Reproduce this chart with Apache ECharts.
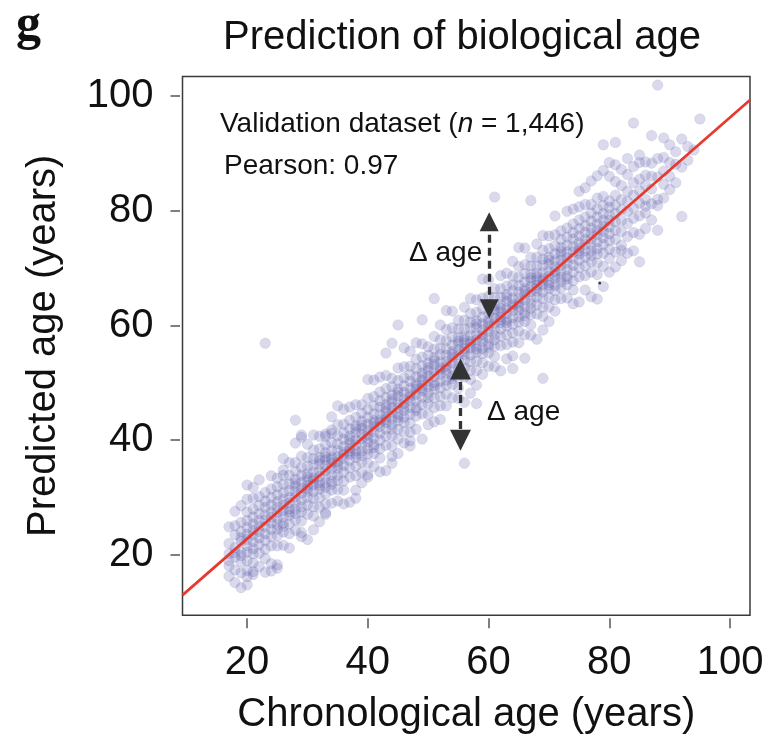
<!DOCTYPE html>
<html><head><meta charset="utf-8">
<script src="https://cdn.jsdelivr.net/npm/echarts@6/dist/echarts.min.js"></script>
<style>html,body{margin:0;padding:0;background:#fff}#c{width:767px;height:742px}</style>
</head><body><div id="c"></div>
<script>
// tick labels
const xTicks = [20, 40, 60, 80, 100];
const yTicks = [20, 40, 60, 80, 100];

// each row: chronological age, then predicted ages of the samples with that age
const ages17to29 = [
  [17, 16.3, 18.1, 20.2, 24.9, 22.0, 19.0],
  [18, 15.2, 17.4, 19.6, 21.3, 23.5, 27.6, 25.1, 20.4],
  [19, 14.3, 18.8, 20.5, 22.4, 24.1, 25.7, 19.9, 28.6, 16.9, 23.0],
  [20, 14.8, 17.3, 19.0, 20.5, 21.6, 22.7, 23.6, 24.8, 26.0, 27.5, 29.7, 32.2, 16.2],
  [21, 16.6, 18.6, 20.2, 21.1, 22.3, 23.5, 24.3, 25.4, 26.6, 28.0, 29.9, 31.8, 17.1],
  [22, 18.0, 20.3, 21.8, 23.0, 24.1, 25.0, 26.0, 27.2, 28.6, 30.2, 33.1],
  [23, 17.0, 19.4, 21.0, 22.5, 23.7, 24.9, 26.0, 27.0, 28.3, 29.4, 30.9, 56.9],
  [24, 17.2, 21.6, 23.2, 24.5, 25.6, 26.6, 27.5, 28.7, 30.0, 31.5, 33.8, 18.5],
  [25, 21.6, 23.4, 25.3, 26.4, 27.4, 28.3, 29.3, 30.5, 31.9, 33.4, 24.5, 18.3, 17.7],
  [26, 21.7, 24.0, 25.5, 26.7, 27.8, 28.7, 29.7, 30.9, 32.3, 33.9, 36.8, 25.0, 34.8],
  [27, 21.2, 23.7, 25.4, 26.9, 28.0, 29.1, 30.0, 31.2, 32.4, 33.9, 36.1, 27.5],
  [28, 24.3, 26.1, 28.0, 29.1, 30.1, 31.0, 32.0, 33.2, 34.6, 36.1, 27.2, 32.5, 39.5, 43.5],
  [29, 23.9, 25.9, 27.5, 28.4, 29.6, 30.8, 31.6, 32.7, 33.9, 35.3, 37.2, 40.5, 40.9, 23.2]
];
const ages30s = [
  [30, 22.7, 27.1, 28.7, 30.0, 31.1, 32.1, 33.0, 34.2, 35.5, 37.0, 39.3, 31.6, 33.6],
  [31, 24.4, 26.8, 28.4, 29.9, 31.1, 32.3, 33.4, 34.4, 35.7, 36.8, 38.3, 40.9, 33.0],
  [32, 25.8, 28.3, 30.0, 31.5, 32.6, 33.7, 34.6, 35.8, 37.0, 38.5, 40.7, 32.1, 36.5],
  [33, 28.9, 30.7, 32.6, 33.7, 34.7, 35.6, 36.6, 37.8, 39.2, 40.7, 31.8, 37.1, 27.1, 41.1, 27.4],
  [34, 29.0, 31.3, 32.8, 34.0, 35.1, 36.0, 37.0, 38.2, 39.6, 41.2, 44.1, 32.3, 36.6, 41.8],
  [35, 29.4, 31.4, 33.0, 33.9, 35.1, 36.3, 37.1, 38.2, 39.4, 40.8, 42.7, 46.0, 35.7],
  [36, 28.9, 31.3, 32.9, 34.4, 35.6, 36.8, 37.9, 38.9, 40.2, 41.3, 42.8, 45.4, 37.5],
  [37, 29.2, 33.6, 35.2, 36.5, 37.6, 38.6, 39.5, 40.7, 42.0, 43.5, 45.8, 38.1, 40.1],
  [38, 31.3, 33.8, 35.5, 37.0, 38.1, 39.2, 40.1, 41.3, 42.5, 44.0, 46.2, 37.6, 42.0, 29.9],
  [39, 34.4, 36.2, 38.1, 39.2, 40.2, 41.1, 42.1, 43.3, 44.7, 46.2, 37.3, 42.6, 32.6]
];
const ages40s = [
  [40, 34.0, 36.0, 37.6, 38.5, 39.7, 40.9, 41.7, 42.8, 44.0, 45.4, 47.3, 50.6, 40.3, 33.6],
  [41, 35.4, 37.7, 39.2, 40.4, 41.5, 42.4, 43.4, 44.6, 46.0, 47.6, 50.5, 38.7, 43.0],
  [42, 34.5, 36.9, 38.5, 40.0, 41.2, 42.4, 43.5, 44.5, 45.8, 46.9, 48.4, 51.0, 43.1],
  [43, 34.7, 39.1, 40.7, 42.0, 43.1, 44.1, 45.0, 46.2, 47.5, 49.0, 51.3, 43.6, 45.6, 55.2],
  [44, 39.0, 40.8, 42.7, 43.8, 44.8, 45.7, 46.7, 47.9, 49.3, 50.8, 41.9, 47.2, 37.2, 56.9, 36.0],
  [45, 37.7, 40.2, 41.9, 43.4, 44.5, 45.6, 46.5, 47.7, 48.9, 50.4, 52.6, 44.0, 48.4, 60.1],
  [46, 39.5, 41.5, 43.1, 44.0, 45.2, 46.4, 47.2, 48.3, 49.5, 50.9, 52.8, 56.1, 45.8],
  [47, 39.0, 41.4, 43.0, 44.5, 45.7, 46.9, 48.0, 49.0, 50.3, 51.4, 52.9, 55.5, 47.6, 39.9],
  [48, 41.9, 44.2, 45.7, 46.9, 48.0, 48.9, 49.9, 51.1, 52.5, 54.1, 57.0, 45.2, 49.5],
  [49, 40.2, 44.6, 46.2, 47.5, 48.6, 49.6, 50.5, 51.7, 53.0, 54.5, 56.8, 49.1, 51.1, 61.0]
];
const ages50s = [
  [50, 44.5, 46.3, 48.2, 49.3, 50.3, 51.2, 52.2, 53.4, 54.8, 56.3, 47.4, 52.7, 42.7],
  [51, 43.2, 45.7, 47.4, 48.9, 50.0, 51.1, 52.0, 53.2, 54.4, 55.9, 58.1, 49.5, 53.9, 64.7],
  [52, 43.6, 46.0, 47.6, 49.1, 50.3, 51.5, 52.6, 53.6, 54.9, 56.0, 57.5, 60.1, 52.2],
  [53, 46.0, 48.0, 49.6, 50.5, 51.7, 52.9, 53.7, 54.8, 56.0, 57.4, 59.3, 62.6, 52.3],
  [54, 47.4, 49.7, 51.2, 52.4, 53.5, 54.4, 55.4, 56.6, 58.0, 59.6, 62.5, 50.7, 55.0],
  [55, 49.1, 50.9, 52.8, 53.9, 54.9, 55.8, 56.8, 58.0, 59.4, 60.9, 52.0, 57.3, 47.3],
  [56, 46.6, 51.0, 52.6, 53.9, 55.0, 56.0, 56.9, 58.1, 59.4, 60.9, 63.2, 55.5, 57.5, 36.0],
  [57, 48.2, 50.6, 52.2, 53.7, 54.9, 56.1, 57.2, 58.2, 59.5, 60.6, 62.1, 64.7, 56.8],
  [58, 49.6, 52.1, 53.8, 55.3, 56.4, 57.5, 58.4, 59.6, 60.8, 62.3, 64.5, 55.9, 60.3, 46.4],
  [59, 51.5, 53.5, 55.1, 56.0, 57.2, 58.4, 59.2, 60.3, 61.5, 62.9, 64.8, 68.1, 57.8]
];
const ages60s = [
  [60, 52.9, 55.2, 56.7, 57.9, 59.0, 59.9, 60.9, 62.1, 63.5, 65.1, 68.0, 56.2, 60.5],
  [61, 54.6, 56.4, 58.3, 59.4, 60.4, 61.3, 62.3, 63.5, 64.9, 66.4, 57.5, 62.8, 52.8, 82.4],
  [62, 52.1, 56.5, 58.1, 59.4, 60.5, 61.5, 62.4, 63.6, 64.9, 66.4, 68.7, 61.0, 63.0],
  [63, 54.2, 56.7, 58.4, 59.9, 61.0, 62.1, 63.0, 64.2, 65.4, 66.9, 69.1, 60.5, 64.9],
  [64, 54.7, 57.1, 58.7, 60.2, 61.4, 62.6, 63.7, 64.7, 66.0, 67.1, 68.6, 71.2, 63.3, 52.5],
  [65, 57.0, 59.0, 60.6, 61.5, 62.7, 63.9, 64.7, 65.8, 67.0, 68.4, 70.3, 73.6, 63.3],
  [66, 58.4, 60.7, 62.2, 63.4, 64.5, 65.4, 66.4, 67.6, 69.0, 70.6, 73.5, 61.7, 66.0, 54.3],
  [67, 60.1, 61.9, 63.8, 64.9, 65.9, 66.8, 67.8, 69.0, 70.4, 71.9, 63.0, 68.3, 58.3, 81.8],
  [68, 57.6, 62.0, 63.6, 64.9, 66.0, 67.0, 67.9, 69.1, 70.4, 71.9, 74.2, 66.5, 68.5],
  [69, 59.2, 61.6, 63.2, 64.7, 65.9, 67.1, 68.2, 69.2, 70.5, 71.6, 73.1, 75.7, 67.8, 50.8]
];
const ages70s = [
  [70, 60.7, 63.2, 64.9, 66.4, 67.5, 68.6, 69.5, 70.7, 71.9, 73.4, 75.6, 67.0, 71.4],
  [71, 62.5, 64.5, 66.1, 67.0, 68.2, 69.4, 70.2, 71.3, 72.5, 73.9, 75.8, 79.1, 68.8],
  [72, 64.7, 66.5, 68.4, 69.5, 70.5, 71.4, 72.4, 73.6, 75.0, 76.5, 67.6, 72.9],
  [73, 64.8, 67.1, 68.6, 69.8, 70.9, 71.8, 72.8, 74.0, 75.4, 77.0, 79.9, 68.1],
  [74, 63.8, 66.2, 67.8, 69.3, 70.5, 71.7, 72.8, 73.8, 75.1, 76.2, 77.7, 80.3],
  [75, 64.1, 68.5, 70.1, 71.4, 72.5, 73.5, 74.4, 75.6, 76.9, 78.4, 80.7, 73.0, 83.4],
  [76, 66.2, 68.7, 70.4, 71.9, 73.0, 74.1, 75.0, 76.2, 77.4, 78.9, 81.1, 84.0],
  [77, 69.3, 71.1, 73.0, 74.1, 75.1, 76.0, 77.0, 78.2, 79.6, 81.1, 72.2, 85.2, 65.0],
  [78, 68.9, 70.9, 72.5, 73.4, 74.6, 75.8, 76.6, 77.7, 78.9, 80.3, 82.2, 64.6, 86.1],
  [79, 70.3, 72.6, 74.1, 75.3, 76.4, 77.3, 78.3, 79.5, 80.9, 82.5, 91.5, 87.0, 66.8]
];
const ages80to95 = [
  [80, 69.3, 71.7, 73.3, 74.8, 76.0, 77.2, 78.3, 79.3, 80.6, 81.7, 86.0, 88.4],
  [81, 70.2, 72.8, 75.0, 76.6, 78.1, 79.5, 81.0, 82.7, 85.1, 91.9, 88.0],
  [82, 71.3, 74.0, 76.4, 78.3, 80.2, 81.9, 84.4, 87.2, 73.1],
  [83, 72.6, 75.5, 77.8, 79.9, 81.6, 83.4, 86.3, 89.1],
  [84, 73.0, 76.2, 78.7, 80.5, 82.7, 84.9, 87.7, 95.3],
  [85, 71.1, 75.9, 79.1, 81.3, 83.5, 85.5, 88.4, 89.7],
  [86, 76.9, 79.6, 82.0, 84.4, 86.2, 88.5, 80.8],
  [87, 78.4, 81.2, 83.8, 86.0, 88.3, 93.1],
  [88, 76.6, 80.9, 82.0, 85.9, 89.1, 101.9],
  [89, 82.2, 84.6, 86.9, 92.7, 89.3],
  [90, 83.7, 86.0, 91.5, 88.4],
  [91, 84.9, 88.1, 90.3],
  [92, 79.0, 87.6, 92.5],
  [93, 88.8, 91.2],
  [94, 90.6],
  [95, 96.0]
];
// fitted line end points (axis extent), annotation arrows, stray dot
const regressionLine = [[9.3, 13.0], [103.3, 99.3]];
const upperDelta = [[60.1, 78.1], [60.1, 62.9]];
const lowerDelta = [[55.35, 52.4], [55.35, 40.0]];
const strayMark = [[78.4, 67.4]];

function toPoints(rows) {
  const out = [];
  rows.forEach(r => { for (let i = 1; i < r.length; i++) out.push([r[0], r[i]]); });
  return out;
}
const points = [].concat(
  toPoints(ages17to29), toPoints(ages30s), toPoints(ages40s), toPoints(ages50s),
  toPoints(ages60s), toPoints(ages70s), toPoints(ages80to95)
);

const FONT = "'Liberation Sans', Arial, Helvetica, sans-serif";
const chart = echarts.init(document.getElementById('c'), null, { renderer: 'canvas' });
chart.setOption({
  animation: false,
  backgroundColor: '#fff',
  title: {
    text: 'Prediction of biological age',
    left: 218, top: 13,
    textStyle: { fontFamily: FONT, fontSize: 40, fontWeight: 'normal', color: '#111' }
  },
  grid: {
    left: 182.5, right: 17, top: 76.5, bottom: 126.8,
    show: true, borderColor: '#3a3a3a', borderWidth: 1.5, backgroundColor: 'transparent'
  },
  xAxis: {
    type: 'value', min: 9.3, max: 103.3, offset: 3,
    name: 'Chronological age (years)', nameLocation: 'middle', nameGap: 77,
    nameTextStyle: { fontFamily: FONT, fontSize: 40, color: '#111' },
    axisLine: { show: false },
    axisTick: { show: true, length: 10, customValues: xTicks, lineStyle: { color: '#555', width: 1.5 } },
    axisLabel: { customValues: xTicks, margin: 25, fontFamily: FONT, fontSize: 40, color: '#111' },
    splitLine: { show: false }
  },
  yAxis: {
    type: 'value', min: 9.5, max: 103.4, offset: 2.5,
    name: 'Predicted age (years)', nameLocation: 'middle', nameGap: 116,
    nameTextStyle: { fontFamily: FONT, fontSize: 40, color: '#111' },
    axisLine: { show: false },
    axisTick: { show: true, length: 9.5, customValues: yTicks, lineStyle: { color: '#555', width: 1.5 } },
    axisLabel: { customValues: yTicks, margin: 26.5, fontFamily: FONT, fontSize: 40, color: '#111' },
    splitLine: { show: false }
  },
  series: [
    {
      type: 'scatter', data: points, symbol: 'circle', symbolSize: 10.5,
      itemStyle: { color: 'rgba(95,95,175,0.29)', borderColor: 'rgba(90,90,170,0.18)', borderWidth: 0.8 },
      silent: true, z: 2
    },
    {
      type: 'scatter', data: strayMark, symbolSize: 3,
      itemStyle: { color: '#111' }, silent: true, z: 3
    },
    {
      type: 'line', data: regressionLine, showSymbol: false, symbol: 'none',
      lineStyle: { color: '#e63a2e', width: 2.7 }, silent: true, z: 4
    },
    {
      type: 'scatter', data: [], z: 5,
      markLine: {
        silent: true, animation: false,
        symbol: ['triangle', 'triangle'],
        label: { show: false },
        lineStyle: { color: '#333', width: 3.3, type: [8, 5] },
        data: [
          [{ coord: upperDelta[0], symbolSize: 19 }, { coord: upperDelta[1], symbolSize: 19 }],
          [{ coord: lowerDelta[0], symbolSize: 21 }, { coord: lowerDelta[1], symbolSize: 21 }]
        ]
      }
    }
  ],
  graphic: [
    { type: 'text', left: 16, top: 1, style: { text: 'g', font: "bold 50px 'Liberation Serif', 'DejaVu Serif', serif", fill: '#111' } },
    { type: 'text', x: 220, y: 124, style: {
        text: '{a|Validation dataset (}{i|n}{a| = 1,446)}',
        verticalAlign: 'middle',
        rich: {
          a: { fontFamily: FONT, fontSize: 28, fill: '#111', color: '#111' },
          i: { fontFamily: FONT, fontSize: 28, fontStyle: 'italic', fill: '#111', color: '#111' }
        },
        font: '28px ' + FONT, fill: '#111'
    } },
    { type: 'text', x: 224, y: 166.5, style: { text: 'Pearson: 0.97', font: '28px ' + FONT, fill: '#111', verticalAlign: 'middle' } },
    { type: 'text', x: 409, y: 253, style: { text: '\u0394 age', font: '28px ' + FONT, fill: '#111', verticalAlign: 'middle' } },
    { type: 'text', x: 487, y: 412, style: { text: '\u0394 age', font: '28px ' + FONT, fill: '#111', verticalAlign: 'middle' } }
  ]
});
</script></body></html>
